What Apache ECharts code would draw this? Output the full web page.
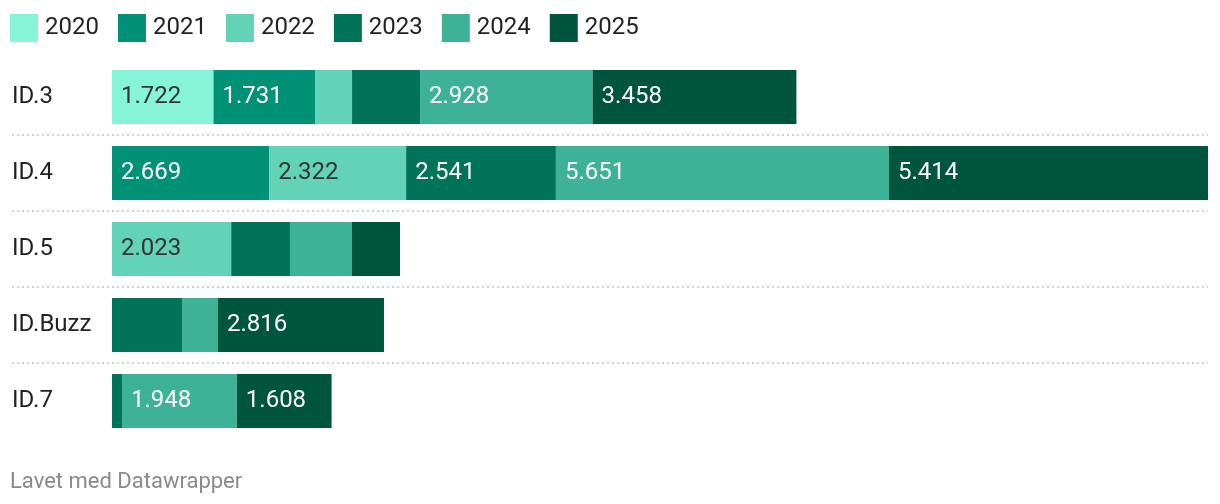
<!DOCTYPE html>
<html>
<head>
<meta charset="utf-8">
<script src="https://cdn.jsdelivr.net/npm/echarts@6/dist/echarts.min.js"></script>
<style>
html,body{margin:0;padding:0;background:#fff;}
#chart{width:1220px;height:504px;}
</style>
</head>
<body>
<div id="chart"></div>
<script>
var years = ['2020', '2021', '2022', '2023', '2024', '2025'];
var models = ['ID.3', 'ID.4', 'ID.5', 'ID.Buzz', 'ID.7'];
var v2020 = [1722, 0, 0, 0, 0];
var v2021 = [1731, 2669, 0, 0, 0];
var v2022 = [620, 2322, 2023, 0, 0];
var v2023 = [1154, 2541, 997, 1188, 170];
var v2024 = [2928, 5651, 1052, 611, 1948];
var v2025 = [3458, 5414, 815, 2816, 1608];
var seriesValues = [v2020, v2021, v2022, v2023, v2024, v2025];

var colors = ['#86f4d6', '#009177', '#62d3b6', '#007358', '#3db296', '#00553d'];
var labelColors = ['#333333', '#ffffff', '#333333', '#ffffff', '#ffffff', '#ffffff'];

function fmt(v) {
  return String(Math.round(v)).replace(/\B(?=(\d{3})+(?!\d))/g, '.');
}

var totals = models.map(function (m, i) {
  return seriesValues.reduce(function (s, arr) { return s + arr[i]; }, 0);
});
var maxTotal = Math.max.apply(null, totals);

var FONT = 'Roboto, "Noto Sans", sans-serif';

var series = years.map(function (y, k) {
  return {
    name: y,
    type: 'bar',
    stack: 'total',
    barWidth: 54,
    xAxisIndex: 0,
    yAxisIndex: 0,
    itemStyle: { color: colors[k] },
    emphasis: { disabled: true },
    data: seriesValues[k].map(function (v) { return v > 0 ? v : null; }),
    label: {
      show: true,
      position: 'insideLeft',
      distance: 9,
      fontFamily: FONT,
      fontSize: 24,
      color: labelColors[k],
      formatter: function (p) { return p.value >= 1500 ? fmt(p.value) : ''; }
    }
  };
});

var chart = echarts.init(document.getElementById('chart'), null, { renderer: 'canvas' });
chart.setOption({
  animation: false,
  color: colors,
  title: {
    text: 'Lavet med Datawrapper',
    left: 10,
    top: 471,
    padding: 0,
    textStyle: { fontFamily: FONT, fontSize: 22, fontWeight: 'normal', color: '#8a8a8a', lineHeight: 22 }
  },
  legend: {
    left: 10,
    top: 14,
    padding: 0,
    itemWidth: 28,
    itemHeight: 28,
    itemGap: 19,
    icon: 'rect',
    selectedMode: false,
    data: years,
    textStyle: { fontFamily: FONT, fontSize: 24, color: '#222222', padding: [2, 0, 0, 2] }
  },
  grid: [
    { left: 112, right: 12, top: 59, height: 380 },
    { left: 12, right: 12, top: 59, height: 380 }
  ],
  xAxis: [
    { type: 'value', gridIndex: 0, min: 0, max: maxTotal, show: false },
    { type: 'value', gridIndex: 1, min: 0, max: 1, show: false }
  ],
  yAxis: [
    {
      type: 'category',
      gridIndex: 0,
      data: models,
      inverse: true,
      axisLine: { show: false },
      axisTick: { show: false },
      splitLine: { show: false },
      axisLabel: {
        align: 'left',
        margin: 100,
        fontFamily: FONT,
        fontSize: 24,
        color: '#222222'
      }
    },
    {
      type: 'category',
      gridIndex: 1,
      data: models,
      inverse: true,
      axisLine: { show: false },
      axisTick: { show: false },
      axisLabel: { show: false },
      splitLine: {
        show: true,
        showMinLine: false,
        showMaxLine: false,
        lineStyle: { color: '#d2d2d2', width: 2, type: [2, 3] }
      }
    }
  ],
  series: series
});
</script>
</body>
</html>
